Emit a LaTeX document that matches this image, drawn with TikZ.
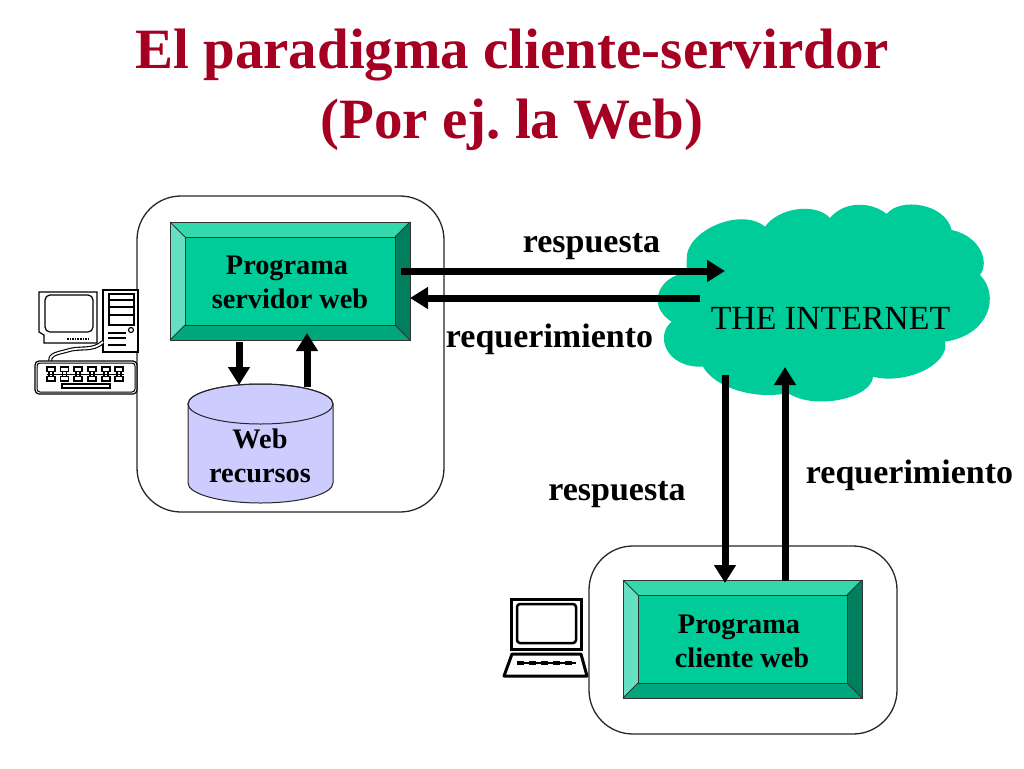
\documentclass[tikz,border=0pt]{standalone}
\usepackage{fontspec}
\setmainfont{Liberation Serif}
\frenchspacing
\usetikzlibrary{arrows.meta, positioning}
\definecolor{titlered}{HTML}{A50021}
\definecolor{boxgreen}{HTML}{00CC99}
\definecolor{bevellight}{HTML}{33D9AD}
\definecolor{bevelpale}{HTML}{66E0C2}
\definecolor{beveldark}{HTML}{00A67C}
\definecolor{beveldeep}{HTML}{007F5F}
\definecolor{dbblue}{HTML}{CCCCFF}
\tikzset{
	hostbox/.style={draw=black!85, line width=1.3pt, rounded corners=44pt, minimum width=307pt, inner sep=0pt, outer sep=0pt},
	bevelout/.style={minimum width=240pt, minimum height=118pt, inner sep=0pt, outer sep=0pt},
	bevelin/.style={minimum width=210pt, minimum height=88pt, inner sep=0pt, outer sep=0pt, draw=black!80, line width=1pt, fill=boxgreen},
	boxtext/.style={font=\fontsize{28.3}{34}\selectfont\bfseries, align=center, inner sep=0pt},
	msgtext/.style={font=\fontsize{34}{36}\selectfont\bfseries, inner sep=0pt},
	flow/.style={line width=7pt, -{Triangle[length=18pt, width=21pt]}},
	pcline/.style={draw=black, line width=1.2pt, fill=white},
	lapline/.style={draw=black, line width=3pt, fill=white}
}
\begin{document}
\begin{tikzpicture}[x=1pt, y=-1pt]
	\useasboundingbox (0,0) rectangle (1024,768);
	\node (titulo) [font=\fontsize{57}{70}\selectfont\bfseries, text=titlered, align=center, inner sep=0pt] at (512,90) {El paradigma cliente-servirdor\\(Por ej. la Web)};

	\node (hostservidor) [hostbox, minimum height=316pt] at (290.5,354) {};
	\node (hostcliente) [hostbox, minimum width=308pt, minimum height=188pt] at (743,640) {};

	\node (servidor) [bevelout] at (290,281) {};
	\node (servidorin) [bevelin] at (290,281) {};
	\node (cliente) [bevelout, minimum width=239pt] at (742.5,639) {};
	\node (clientein) [bevelin, minimum width=209pt] at (742.5,639) {};
	\foreach \b/\i in {servidor/servidorin, cliente/clientein}{
		\fill [bevellight] (\b.north west)--(\b.north east)--(\i.north east)--(\i.north west)--cycle;
		\fill [bevelpale] (\b.north west)--(\b.south west)--(\i.south west)--(\i.north west)--cycle;
		\fill [beveldark] (\b.south west)--(\b.south east)--(\i.south east)--(\i.south west)--cycle;
		\fill [beveldeep] (\b.north east)--(\b.south east)--(\i.south east)--(\i.north east)--cycle;
		\draw [black!80, line width=1pt] (\b.north west) rectangle (\b.south east);
		\draw [black!80, line width=1pt] (\i.north west) rectangle (\i.south east);
		\draw [black!80, line width=1pt] (\b.north west)--(\i.north west);
		\draw [black!80, line width=1pt] (\b.north east)--(\i.north east);
		\draw [black!80, line width=1pt] (\b.south west)--(\i.south west);
		\draw [black!80, line width=1pt] (\b.south east)--(\i.south east);
	}
	\node (servidortxt) [boxtext] at (290,282) {Programa\kern6pt\\ servidor web};
	\node (clientetxt) [boxtext] at (742,641) {Programa\kern6pt\\ cliente web};

	\node (recursos) [minimum width=145pt, minimum height=119pt, inner sep=0pt, outer sep=0pt] at (260.5,443.5) {};
	\draw [black!85, line width=1pt, fill=dbblue] (recursos.north west) ++(0,20) -- ++(0,79) arc [start angle=180, end angle=360, x radius=72.5pt, y radius=20pt] -- ++(0,-79) arc [start angle=0, end angle=180, x radius=72.5pt, y radius=20pt] -- cycle;
	\draw [black!85, line width=1pt] (recursos.north) ++(0,20) circle [x radius=72.5pt, y radius=20pt];
	\node (recursostxt) [boxtext] at (260,456) {Web\\ recursos};

	\fill [boxgreen] (686.7,260) .. controls (684,232) and (740,206) .. (765,226.7)
		.. controls (778,208) and (815,202) .. (830,218)
		.. controls (845,200) and (872,202) .. (886.7,214)
		.. controls (900,197) and (945,203) .. (951.7,230)
		.. controls (980,236) and (990,262) .. (980,275)
		.. controls (1000,295) and (990,335) .. (945,341.7)
		.. controls (950,365) and (905,385) .. (873,376.7)
		.. controls (872,398) and (815,411) .. (788,393)
		.. controls (755,400) and (715,388) .. (703,366.7)
		.. controls (665,368) and (655,335) .. (671.7,321.7)
		.. controls (645,305) and (660,275) .. (686.7,273)
		-- cycle;
	\node (internet) [font=\fontsize{33.8}{36}\selectfont, inner sep=0pt] at (830.5,318) {THE INTERNET};

	\coordinate (salida) at (401,271);
	\coordinate (nube) at (725,271);
	\coordinate (nubeizq) at (700,298);
	\coordinate (entrada) at (410,298);
	\coordinate (abajo) at (239,342);
	\coordinate (cilindro) at (239,385);
	\coordinate (cilarriba) at (307,387);
	\coordinate (arriba) at (307,333);
	\coordinate (nubebaja) at (725,375);
	\coordinate (clientearr) at (725,583);
	\coordinate (clientesal) at (785,581);
	\coordinate (nubesube) at (785,367);
	\draw [flow] (salida)--(nube);
	\draw [flow] (nubeizq)--(entrada);
	\draw [flow] (abajo)--(cilindro);
	\draw [flow] (cilarriba)--(arriba);
	\draw [flow] (nubebaja)--(clientearr);
	\draw [flow] (clientesal)--(nubesube);

	\node (resp1) [msgtext] at (591.5,247) {respuesta};
	\node (req1) [msgtext] at (549.5,339) {requerimiento};
	\node (resp2) [msgtext] at (617,495) {respuesta};
	\node (req2) [msgtext] at (909.5,475) {requerimiento};

	\draw [pcline] (39,292)--(97,292)--(97,343)--(67,343)--(44,343)--(44,335)--(39,332)--cycle;
	\draw [line width=1.2pt, rounded corners=5pt] (45,295) rectangle (93,332);
	\draw [line width=1.6pt, densely dotted] (67,339)--(88,339);
	\draw [pcline] (103,290) rectangle (138,352);
	\draw [pcline] (109,294) rectangle (134,325);
	\foreach \i in {300,307,315}{
		\draw [line width=1.2pt] (109,\i)--(134,\i);
	}
	\foreach \i in {333,338,345}{
		\draw [line width=1.2pt] (108,\i)--(126,\i);
	}
	\draw [pcline] (131,330) circle (2.5pt);
	\draw [line width=4pt] (103,342) .. controls (92,352) and (80,346) .. (66,351) .. controls (54,354) and (50,355) .. (50,361);
	\draw [white, line width=1.8pt] (103,342) .. controls (92,352) and (80,346) .. (66,351) .. controls (54,354) and (50,355) .. (50,361);
	\draw [pcline, rounded corners=4pt] (35,361) rectangle (137,394);
	\draw [line width=1pt, rounded corners=3pt] (37,363) rectangle (135,392);
	\foreach \i in {47,60.5,74,88,102,115}{
		\draw [line width=1.1pt] (\i,367) rectangle ++(8,4.5);
		\draw [line width=1.1pt] (\i,376.5) rectangle ++(8,4.5);
		\draw [line width=1.1pt] (\i+2,371.5)--(\i+2,376.5);
		\draw [line width=1.1pt] (\i+6,371.5)--(\i+6,376.5);
	}
	\draw [line width=1pt] (47,374)--(124,374);
	\draw [line width=1.1pt] (62,384) rectangle (110,388);

	\draw [lapline] (511,599) rectangle (581,649);
	\draw [black, line width=2.5pt, rounded corners=3pt] (517,604) rectangle (576,643);
	\draw [lapline, line join=round] (512,654)--(581,654)--(587,676)--(504,676)--cycle;
	\draw [line width=1.5pt] (517,663)--(576,663);
	\draw [line width=4.5pt, dash pattern=on 7pt off 5pt] (517,663)--(576,663);
\end{tikzpicture}
\end{document}
